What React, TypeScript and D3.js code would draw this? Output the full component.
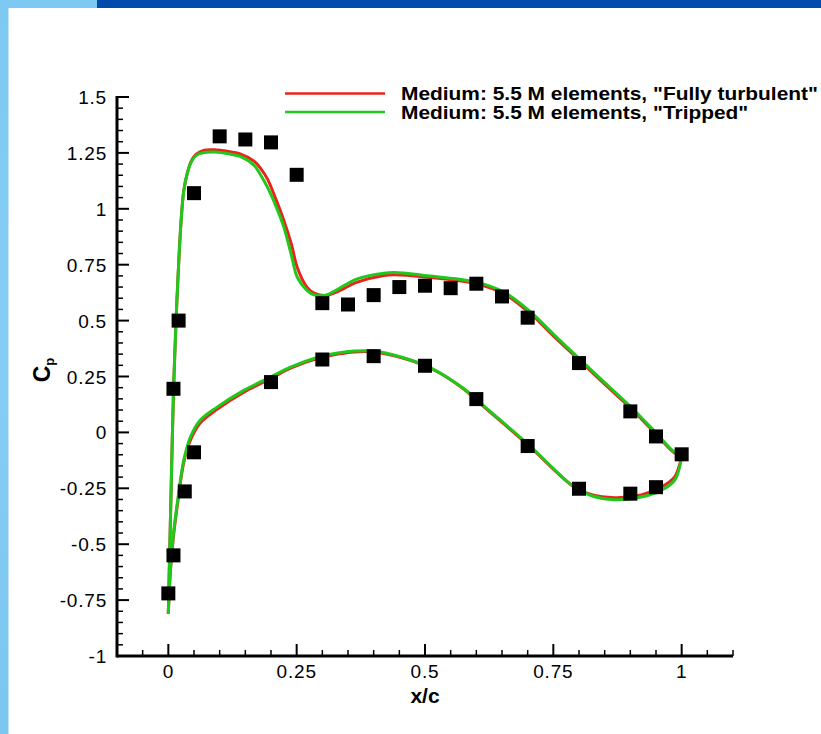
import React from "react";
import * as d3 from "d3";

// ---- Data ----
const xTickValues = [0, 0.25, 0.5, 0.75, 1];
const xTickLabels = ["0", "0.25", "0.5", "0.75", "1"];
const yTickValues = [-1, -0.75, -0.5, -0.25, 0, 0.25, 0.5, 0.75, 1, 1.25, 1.5];
const yTickLabels = ["-1", "-0.75", "-0.5", "-0.25", "0", "0.25", "0.5", "0.75", "1", "1.25", "1.5"];

// Experimental data (squares)
const expX = [0, 0.01, 0.02, 0.05, 0.1, 0.15, 0.2, 0.25, 0.3, 0.35, 0.4, 0.45, 0.5, 0.55, 0.6, 0.65, 0.7, 0.8, 0.9, 0.95, 1.0,
  0.01, 0.032, 0.05, 0.2, 0.3, 0.4, 0.5, 0.6, 0.7, 0.8, 0.9, 0.95];
const expCp = [-0.72, 0.195, 0.5, 1.07, 1.324, 1.31, 1.297, 1.152, 0.578, 0.572, 0.614, 0.65, 0.656, 0.645, 0.665, 0.608, 0.513, 0.31, 0.094, -0.018, -0.098,
  -0.55, -0.264, -0.089, 0.225, 0.326, 0.341, 0.298, 0.149, -0.061, -0.252, -0.274, -0.245];

// CFD upper surface
const upperX = [0, 0.002, 0.005, 0.008, 0.011, 0.015, 0.02, 0.025, 0.03, 0.037, 0.045, 0.055, 0.07, 0.09, 0.12, 0.14, 0.167, 0.18, 0.193, 0.21, 0.225, 0.24, 0.251, 0.27, 0.284, 0.306, 0.33, 0.368, 0.42, 0.44, 0.5, 0.6, 0.654, 0.706, 0.75, 0.804, 0.85, 0.908, 0.95, 0.986, 1.0];
const upperTurbulent = [-0.81, -0.6, -0.3, 0, 0.25, 0.5, 0.75, 0.95, 1.08, 1.16, 1.215, 1.245, 1.262, 1.264, 1.255, 1.246, 1.213, 1.18, 1.134, 1.04, 0.948, 0.84, 0.739, 0.65, 0.623, 0.612, 0.63, 0.672, 0.702, 0.705, 0.695, 0.665, 0.62, 0.53, 0.432, 0.315, 0.216, 0.092, -0.008, -0.092, -0.103];
const upperTripped = [-0.81, -0.6, -0.3, 0, 0.25, 0.5, 0.75, 0.95, 1.08, 1.16, 1.21, 1.24, 1.252, 1.254, 1.245, 1.234, 1.194, 1.15, 1.097, 1.01, 0.918, 0.79, 0.695, 0.635, 0.615, 0.613, 0.64, 0.687, 0.712, 0.715, 0.702, 0.672, 0.627, 0.538, 0.44, 0.322, 0.223, 0.098, -0.002, -0.088, -0.103];

// CFD lower surface
const lowerX = [0, 0.003, 0.01, 0.02, 0.03, 0.043, 0.062, 0.095, 0.147, 0.199, 0.238, 0.29, 0.33, 0.362, 0.4, 0.453, 0.511, 0.576, 0.602, 0.7, 0.791, 0.823, 0.869, 0.921, 0.96, 0.986, 0.996, 1.0];
const lowerTurbulent = [-0.81, -0.66, -0.465, -0.285, -0.135, -0.035, 0.042, 0.103, 0.18, 0.24, 0.287, 0.33, 0.35, 0.36, 0.36, 0.335, 0.287, 0.193, 0.14, -0.055, -0.245, -0.278, -0.292, -0.28, -0.245, -0.2, -0.145, -0.103];
const lowerTripped = [-0.81, -0.65, -0.453, -0.274, -0.125, -0.021, 0.054, 0.113, 0.188, 0.247, 0.292, 0.335, 0.355, 0.364, 0.364, 0.337, 0.289, 0.195, 0.143, -0.051, -0.245, -0.282, -0.301, -0.289, -0.259, -0.215, -0.155, -0.103];

const legendLabels = [
  'Medium: 5.5 M elements, "Fully turbulent"',
  'Medium: 5.5 M elements, "Tripped"',
];

const RED = "#e8251c";
const GREEN = "#20c81c";
const FONT = "'Liberation Sans', Arial, Helvetica, sans-serif";

export default function App() {
  const W = 821, H = 734;
  const x = d3.scaleLinear().domain([-0.1, 1.1]).range([117, 733]);
  const y = d3.scaleLinear().domain([-1, 1.5]).range([656, 97]);

  const line = d3
    .line<[number, number]>()
    .x((d) => x(d[0]))
    .y((d) => y(d[1]))
    .curve(d3.curveCatmullRom.alpha(0.5));

  const zip = (xs: number[], ys: number[]) => xs.map((v, i) => [v, ys[i]] as [number, number]);

  const xMinor = d3.range(-0.1, 1.1001, 0.05).filter((v) => !xTickValues.some((t) => Math.abs(t - v) < 1e-6));
  const yMinor = d3.range(-1, 1.5001, 0.05).filter((v) => !yTickValues.some((t) => Math.abs(t - v) < 1e-6));

  const x0 = x.range()[0];
  const y0 = y.range()[0];
  const sq = 14;

  return (
    <svg width={W} height={H} style={{ position: "fixed", left: 0, top: 0, background: "#fff" }}>
      <defs>
        <linearGradient id="lb" x1="0" y1="0" x2="0" y2="1">
          <stop offset="0" stopColor="#7ec9f2" />
          <stop offset="0.5" stopColor="#86cdf3" />
          <stop offset="1" stopColor="#7cc6f0" />
        </linearGradient>
      </defs>
      {/* slide frame */}
      <rect x={0} y={0} width={W} height={H} fill="#ffffff" />
      <rect x={97} y={0} width={W - 97} height={8} fill="#004aab" />
      <rect x={0} y={0} width={97} height={8} fill="#7ec9f2" />
      <rect x={0} y={0} width={8.5} height={H} fill="url(#lb)" />

      {/* ticks */}
      {xMinor.map((v, i) => (
        <line key={"xm" + i} x1={x(v)} x2={x(v)} y1={y0} y2={y0 - 6} stroke="#000" strokeWidth={1.5} />
      ))}
      {xTickValues.map((v, i) => (
        <line key={"xM" + i} x1={x(v)} x2={x(v)} y1={y0} y2={y0 - 12} stroke="#000" strokeWidth={2} />
      ))}
      {yMinor.map((v, i) => (
        <line key={"ym" + i} x1={x0} x2={x0 + 6} y1={y(v)} y2={y(v)} stroke="#000" strokeWidth={1.5} />
      ))}
      {yTickValues.map((v, i) => (
        <line key={"yM" + i} x1={x0} x2={x0 + 12} y1={y(v)} y2={y(v)} stroke="#000" strokeWidth={2} />
      ))}
      {/* axes */}
      <line x1={x0} x2={x.range()[1]} y1={y0} y2={y0} stroke="#000" strokeWidth={3} />
      <line x1={x0} x2={x0} y1={y.range()[1] - 1} y2={y0 + 1.5} stroke="#000" strokeWidth={3} />

      {/* tick labels */}
      {xTickValues.map((v, i) => (
        <text key={"xl" + i} x={x(v)} y={678} textAnchor="middle" fontFamily={FONT} fontSize={19} letterSpacing={0.8}>
          {xTickLabels[i]}
        </text>
      ))}
      {yTickValues.map((v, i) => (
        <text key={"yl" + i} x={107} y={y(v) + 7} textAnchor="end" fontFamily={FONT} fontSize={19} letterSpacing={0.8}>
          {yTickLabels[i]}
        </text>
      ))}

      {/* axis titles */}
      <text x={425} y={703} textAnchor="middle" fontFamily={FONT} fontSize={21} fontWeight="bold">
        x/c
      </text>
      <text transform={`translate(50,370) rotate(-90)`} textAnchor="middle" fontFamily={FONT} fontWeight="bold" fontSize={23}>
        C<tspan fontSize={13} dy={4}>p</tspan>
      </text>

      {/* CFD curves */}
      <path d={line(zip(upperX, upperTurbulent)) || ""} fill="none" stroke={RED} strokeWidth={3} />
      <path d={line(zip(lowerX, lowerTurbulent)) || ""} fill="none" stroke={RED} strokeWidth={3} />
      <path d={line(zip(upperX, upperTripped)) || ""} fill="none" stroke={GREEN} strokeWidth={3} />
      <path d={line(zip(lowerX, lowerTripped)) || ""} fill="none" stroke={GREEN} strokeWidth={3} />

      {/* experimental squares */}
      {expX.map((v, i) => (
        <rect key={"e" + i} x={x(v) - sq / 2} y={y(expCp[i]) - sq / 2} width={sq} height={sq} fill="#000" />
      ))}

      {/* legend */}
      <line x1={285} x2={385} y1={93.5} y2={93.5} stroke={RED} strokeWidth={2.5} />
      <line x1={285} x2={385} y1={112} y2={112} stroke={GREEN} strokeWidth={2.5} />
      <text transform="translate(401,100) scale(1.1,1)" fontFamily={FONT} fontSize={19} fontWeight="bold">{legendLabels[0]}</text>
      <text transform="translate(401,119) scale(1.1,1)" fontFamily={FONT} fontSize={19} fontWeight="bold">{legendLabels[1]}</text>
    </svg>
  );
}
